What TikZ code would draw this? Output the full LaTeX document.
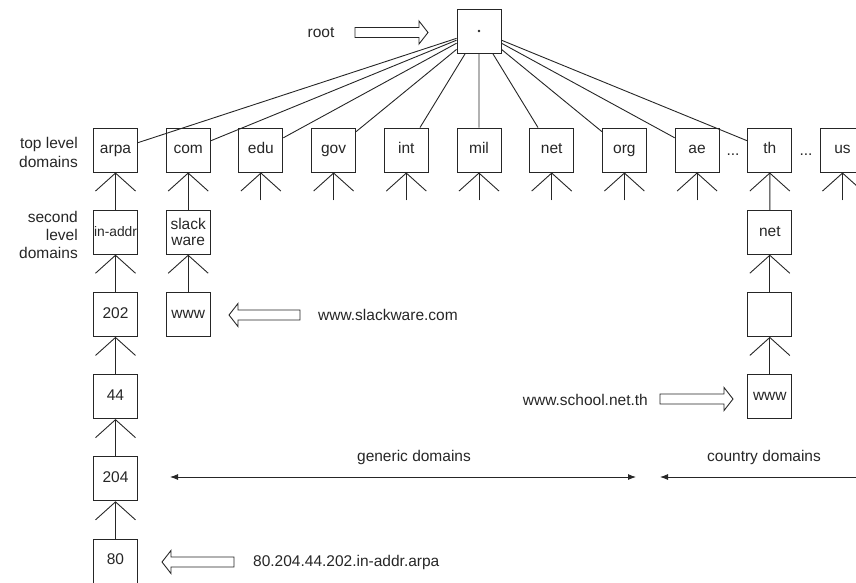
\documentclass[tikz,border=0pt]{standalone}
\usepackage{fontspec}
\setmainfont{Liberation Sans}
\usetikzlibrary{arrows.meta}
\begin{document}
\begin{tikzpicture}[x=1pt,y=-1pt,
  every node/.style={text=black!85},
  boxbase/.style={draw=black!85, line width=0.9pt, minimum width=44pt, minimum height=44pt, inner sep=0pt, font=\fontsize{15.5}{18}\selectfont},
  box/.style={boxbase, text height=11pt, text depth=3.3pt},
  lbl/.style={font=\fontsize{15.5}{19}\selectfont, inner sep=0pt},
  tree/.style={draw=black!85, line width=0.9pt, -{Straight Barb[length=18pt,width=40pt]}},
  fan/.style={draw=black!85, line width=0.9pt},
  span/.style={draw=black!85, line width=0.9pt, {Latex[length=8pt,width=6pt]}-{Latex[length=8pt,width=6pt]}},
  pics/hollow/.style={code={\draw[line width=0.9pt, draw=black!85] (0,0) -- (9,-11.5) -- (9,-5) -- (#1,-5) -- (#1,5) -- (9,5) -- (9,11.5) -- cycle;}}
]
\useasboundingbox (0,0) rectangle (856,582);
\clip (0,0) rectangle (856,582);

% root
\node[boxbase] (root) at (479,31) {};
\node[circle, fill=black!85, inner sep=0pt, minimum size=2.6pt] (rootdot) at (root.center) {};
\node[lbl] (rootlbl) at (321,33) {root};
\pic[rotate=180] at (428,32.5) {hollow=73};

% top level domains
\foreach \n [count=\i from 0] in {arpa,com,edu,gov,int,mil,net,org,ae,th,us}
  \node[box] (\n) at (115.5+72.7*\i,150) {\n};
\foreach \n in {arpa,com,edu,gov,int,mil,net,org,ae,th}
  \draw[fan] (root) -- (\n);
\foreach \n in {edu,gov,int,mil,net,org,ae,us}{
  \coordinate (\n-s) at ([yshift=-28pt]\n.south);
  \draw[tree] (\n-s) -- (\n.south);
}
\node[lbl] (dots1) at (733,155) {...};
\node[lbl] (dots2) at (806,155) {...};

% labels left
\node[lbl, align=right, anchor=east] (tld) at (78,152) {top level\\domains};
\node[lbl, align=right, anchor=east, font=\fontsize{15.5}{18}\selectfont] (sld) at (78,235) {second\\level\\domains};

% arpa column
\node[box, font=\fontsize{13.8}{16}\selectfont] (inaddr) at (115.5,232.2) {in-addr};
\node[box] (n202) at (115.5,314.4) {202};
\node[box] (n44) at (115.5,396.6) {44};
\node[box] (n204) at (115.5,478.8) {204};
\node[box] (n80) at (115.5,561) {80};
\draw[tree] (inaddr) -- (arpa);
\draw[tree] (n202) -- (inaddr);
\draw[tree] (n44) -- (n202);
\draw[tree] (n204) -- (n44);
\draw[tree] (n80) -- (n204);

% com column
\node[boxbase, align=center, font=\fontsize{15.5}{16}\selectfont] (slack) at (188.2,232.2) {slack\\ware};
\node[box] (www1) at (188.2,314.4) {www};
\draw[tree] (slack) -- (com);
\draw[tree] (www1) -- (slack);

% th column
\node[box] (thnet) at (769.8,232.2) {net};
\node[box] (school) at (769.8,314.4) {};
\node[box] (www2) at (769.8,396.6) {www};
\draw[tree] (thnet) -- (th);
\draw[tree] (school) -- (thnet);
\draw[tree] (www2) -- (school);

% pointers
\pic at (229,315) {hollow=71};
\node[lbl, anchor=west] (slk) at (318,315) {www.slackware.com};
\pic[rotate=180] at (733,399) {hollow=73};
\node[lbl, anchor=east] (sch) at (648,400) {www.school.net.th};
\pic at (162,562) {hollow=72};
\node[lbl, anchor=west] (rev) at (253,562) {80.204.44.202.in-addr.arpa};

% spans
\coordinate (gl) at (170,477);
\coordinate (gr) at (636,477);
\draw[span] (gl) -- (gr);
\node[lbl] (gen) at (414,457) {generic domains};
\coordinate (cl) at (660,477);
\coordinate (cr) at (872,477);
\draw[span] (cl) -- (cr);
\node[lbl] (cty) at (764,457) {country domains};
\end{tikzpicture}
\end{document}
